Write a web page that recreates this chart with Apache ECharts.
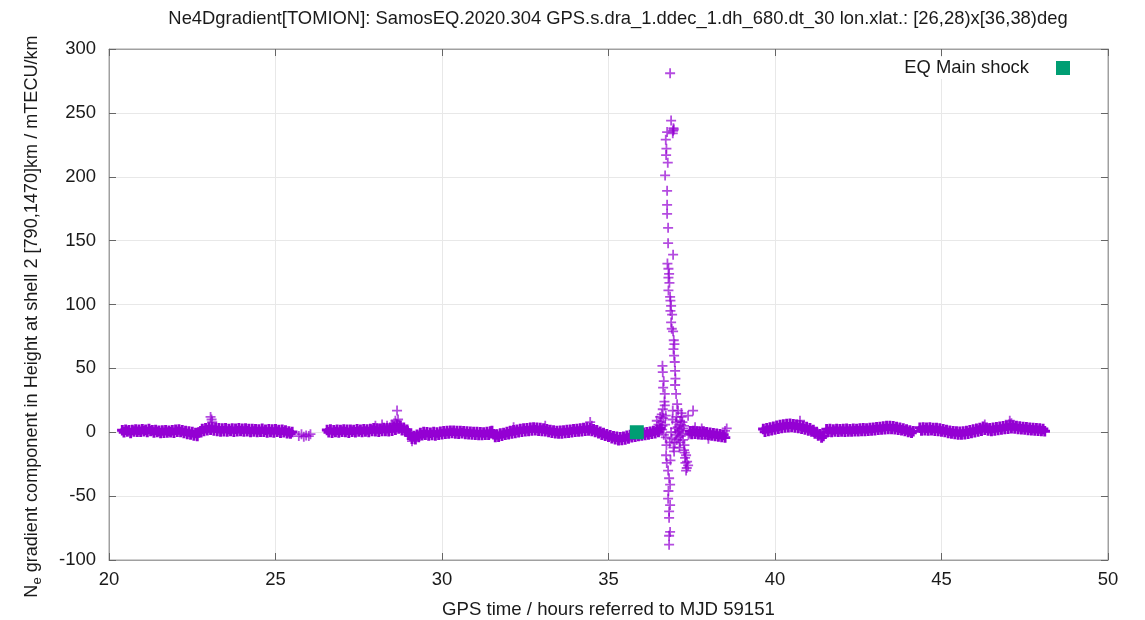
<!DOCTYPE html>
<html>
<head>
<meta charset="utf-8">
<script src="https://cdn.jsdelivr.net/npm/echarts@6/dist/echarts.min.js"></script>
<style>html,body{margin:0;padding:0;background:#fff}#c{width:1145px;height:620px}</style>
</head>
<body>
<div id="c"></div>
<script>
// ---------- data ----------
const titleText = 'Ne4Dgradient[TOMION]: SamosEQ.2020.304 GPS.s.dra_1.ddec_1.dh_680.dt_30 lon.xlat.: [26,28)x[36,38)deg';
const xName = 'GPS time / hours referred to MJD 59151';
const yName = '{a|N}{b|e}{a| gradient component in Height at shell 2 [790,1470]km / mTECU/km}';
const seriesName = 'EQ Main shock';
const xTicks = [20, 25, 30, 35, 40, 45, 50];
const yTicks = [-100, -50, 0, 50, 100, 150, 200, 250, 300];
const sampleStep = 0.05; // hours between samples within an arc

// arc 1: 20.40 .. 25.50 h
const arc1Start = 20.40;
const arc1 = [1.5,0.0,2.0,0.5,1.5,-0.5,1.8,0.6,2.2,0.3,
  1.9,0.4,2.4,0.8,2.0,0.2,2.6,1.0,1.6,-0.2,
  1.8,0.1,1.2,-0.6,1.4,-0.3,1.5,-0.2,1.1,0.0,
  1.6,-0.4,1.9,0.3,2.1,0.2,1.5,-0.5,0.9,-1.4,
  0.6,-1.8,0.2,-2.5,-0.5,-3.0,-0.2,0.8,2.5,0.9,
  3.2,1.5,3.8,2.0,4.0,1.4,3.5,1.0,3.2,0.6,
  2.9,0.8,3.1,0.5,2.6,0.9,3.0,0.4,2.7,0.8,
  3.2,1.0,2.8,0.6,3.0,0.7,2.5,0.2,2.6,0.5,
  2.4,0.1,2.2,0.4,2.8,0.3,2.0,-0.2,2.3,0.2,
  2.1,-0.1,2.4,0.3,1.8,-0.4,1.9,0.0,1.4,-0.8,
  0.6,-1.0,0.2];

// arc 2: 26.55 .. 36.55 h
const arc2Start = 26.55;
const arc2 = [1.8,0.0,2.1,-0.3,1.6,0.2,2.0,-0.1,1.7,0.4,
  2.2,0.1,1.9,-0.4,2.0,0.3,1.8,0.0,2.3,0.5,
  1.9,0.2,2.4,0.6,2.1,0.1,2.6,0.9,3.2,0.8,
  3.0,0.4,2.8,0.9,3.4,1.0,3.1,0.7,3.6,1.2,
  4.5,2.0,6.0,3.0,5.0,1.5,3.5,0.5,2.0,-1.0,
  -2.5,-5.0,-3.0,-5.5,-2.0,-3.8,-0.5,-2.4,0.2,-2.0,
  0.0,-2.6,-0.3,-2.2,0.1,-2.5,-0.2,-1.9,0.4,-1.6,
  0.8,-1.2,1.0,-0.9,1.2,-0.6,1.1,-1.0,0.9,-1.1,
  1.0,-0.8,0.7,-1.3,0.5,-1.5,0.3,-1.8,0.2,-2.0,
  0.1,-2.1,0.0,-2.2,-0.2,-2.0,0.1,-1.9,0.6,1.0,
  -1.5,-3.8,-1.8,-3.5,-1.0,-2.8,-0.5,-2.0,0.2,-1.6,
  0.9,-0.9,1.5,-0.5,2.0,0.0,2.6,0.4,2.9,0.8,
  3.2,1.0,3.6,1.3,3.8,1.5,3.5,1.2,3.4,1.0,
  3.0,0.7,2.4,0.2,1.8,-0.3,1.3,-0.8,1.0,-1.0,
  1.1,-0.9,1.4,-0.6,1.8,-0.3,2.0,0.0,2.3,0.3,
  2.6,0.5,3.0,0.8,3.4,1.1,3.7,1.4,3.3,1.0,
  2.4,0.2,1.5,-0.8,0.4,-1.9,-0.6,-2.8,-1.5,-3.6,
  -2.4,-4.6,-3.2,-5.4,-3.6,-6.2,-4.0,-6.0,-3.5,-5.6,
  -2.8,-4.8,-2.2,-4.0,-1.8,-3.5,-1.2,-3.0,-0.8,-2.6,
  -0.4,-2.2,0.0,-1.8,0.4,-1.2,1.0,-0.8,1.8,0.2,
  3.0];

// arc 2 continued after the disturbance: 37.45 .. 38.50 h
const arc2bStart = 37.45;
const arc2b = [0.8,-1.4,1.0,-1.2,0.6,-1.5,0.3,-1.8,0.5,-1.6,
  0.0,-2.2,-0.4,-2.6,-0.8,-3.0,-1.2,-3.4,-1.6,-3.8,
  -2.0,-4.2];

// arc 3: 39.65 .. 41.45 h
const arc3Start = 39.65;
const arc3 = [2.5,0.4,3.2,1.0,3.8,1.6,4.4,2.2,5.0,2.8,
  5.6,3.4,6.0,3.8,6.4,4.0,6.6,4.2,6.2,3.8,
  5.8,3.4,5.4,2.8,4.8,2.2,4.2,1.4,3.2,0.6,
  1.8,-1.0,0.2,-2.6,-1.6,-4.2,-3.0];

// arc 4: 41.55 .. 44.15 h
const arc4Start = 41.55;
const arc4 = [2.4,0.4,2.6,0.2,2.2,0.5,2.5,0.3,2.3,0.6,
  2.5,0.4,2.7,0.6,2.4,0.5,2.8,0.7,2.6,0.8,
  2.9,0.9,3.1,1.0,3.0,1.2,3.3,1.4,3.6,1.6,
  3.9,1.9,4.2,2.1,4.5,2.4,4.8,2.6,4.9,2.5,
  4.6,2.3,4.2,2.0,3.6,1.5,3.0,0.9,2.2,0.2,
  1.4,-0.4,0.8];

// arc 5: 44.35 .. 48.10 h
const arc5Start = 44.35;
const arc5 = [3.6,1.4,3.8,1.6,3.5,1.3,3.7,1.5,3.4,1.2,
  3.3,1.0,2.9,0.6,2.4,0.1,1.8,-0.5,1.2,-1.0,
  0.8,-1.4,0.5,-1.7,0.4,-1.8,0.6,-1.5,1.0,-1.2,
  1.5,-0.6,2.1,0.0,2.8,0.6,3.4,1.2,4.4,2.0,
  3.6,1.4,3.2,1.0,3.6,1.4,4.0,1.8,4.3,2.2,
  4.6,2.5,5.0,2.8,5.8,3.2,5.2,3.0,4.8,2.6,
  4.5,2.4,4.2,2.1,3.9,1.8,3.6,1.6,3.3,1.4,
  3.1,1.2,2.9,1.0,2.6,0.8];

// isolated points (hours, value)
const scattered = [
  [23.05,12],[23.10,8],[23.08,10],
  [25.70,-3],[25.78,-1.5],[25.85,-3.5],[25.92,-2.5],[26.00,-3],[26.05,-1.5],
  [28.00,5],[28.20,6],[28.35,5],[28.50,6],[28.60,9],[28.65,17],[28.68,10],[29.10,-7],
  [32.15,4],[33.10,5],[34.45,8],[34.50,5],
  [38.55,3],[38.50,1],[37.60,4],[37.80,3],[38.00,-5],
  [40.75,9],[46.30,6],[47.05,9],[47.10,7]
];

// the disturbance around 36.6 .. 37.5 h
const disturbance = [
  [36.45,9],[36.50,6],[36.55,12],[36.58,8],[36.60,14],[36.62,5],[36.64,11],[36.61,2],[36.66,-2],[36.63,18],
  [36.62,52],[36.63,47],[36.66,40],[36.64,35],[36.69,30],[36.68,24],[36.69,21],[36.72,13],[36.70,6],
  [36.72,-4],[36.74,-10],[36.73,-18],[36.75,-24],[36.79,-30],[36.82,-36],[36.85,-41],[36.80,-46],
  [36.79,-52],[36.85,-57],[36.82,-62],[36.82,-67],[36.85,-78],[36.82,-81],[36.82,-88],
  [36.85,281],[36.88,244],[36.76,235],[36.94,236],[36.95,238],[36.93,234],[36.96,237],[36.72,229],
  [36.74,222],[36.73,217],[36.78,211],[36.70,201],[36.76,189],[36.76,178],[36.76,171],[36.79,160],
  [36.79,148],[36.94,139],[36.77,132],[36.80,128],[36.82,124],[36.80,121],[36.83,117],[36.80,111],
  [36.85,106],[36.86,103],[36.88,99],[36.86,95],[36.91,92],[36.88,86],[36.90,81],[36.94,79],
  [36.96,72],[36.98,69],[36.95,65],[36.97,60],[36.99,55],[37.00,48],[37.01,42],
  [37.00,37],[37.03,30],[37.06,22],[37.09,17],[37.04,12],[36.93,17],[37.15,9],[37.54,17],[37.39,13],[37.27,5],
  [37.00,3],[37.02,-2],[37.05,-6],[37.03,8],[37.07,0],[37.10,-4],[37.08,4],[37.12,2],[37.15,-8],
  [37.13,-12],[37.18,6],[37.20,12],[37.22,8],[37.19,15],[37.24,3],[37.21,-1],[37.17,-3],[37.14,1],
  [37.24,-6],[37.27,-14],[37.33,-18],[37.36,-23],[37.33,-30],[37.39,-26],[37.30,-20],[37.28,-10],
  [37.31,-24],[37.35,-28],[37.29,-16],[37.40,-2],[37.44,-1],[37.48,1],
  [36.90,-5],[36.92,10],[36.88,0],[36.97,-15],[36.99,-8],[36.86,-22],[36.95,-12],[36.84,-8]
];

// EQ main shock marker
const mainShock = [[35.85, 0]];

// ---------- chart ----------
function arc(start, vals) {
  return vals.map((v, i) => [Math.round((start + i * sampleStep) * 100) / 100, v]);
}
const bandData = [].concat(
  arc(arc1Start, arc1), arc(arc2Start, arc2), arc(arc2bStart, arc2b),
  arc(arc3Start, arc3), arc(arc4Start, arc4), arc(arc5Start, arc5));

const FONT = 'Liberation Sans, Arial, sans-serif';
const PLUS = 'path://M4.1,0H5.9V4.1H10V5.9H5.9V10H4.1V5.9H0V4.1H4.1Z';
const PLUS_BOLD = 'path://M3.6,0H6.4V3.6H10V6.4H6.4V10H3.6V6.4H0V3.6H3.6Z';
const PURPLE = '#9400d3';

const chart = echarts.init(document.getElementById('c'), null, {renderer: 'canvas'});
const axisCommon = {
  type: 'value',
  axisLine: {show: true, onZero: false, lineStyle: {color: '#a0a0a0', width: 1}},
  axisTick: {show: true, inside: true, length: 7, lineStyle: {color: '#666'}},
};
chart.setOption({
  animation: false,
  backgroundColor: '#fff',
  textStyle: {fontFamily: FONT},
  title: {
    text: titleText, left: 613, top: 5, textAlign: 'center',
    textStyle: {fontFamily: FONT, fontSize: 18.4, fontWeight: 'normal', color: '#1a1a1a'}
  },
  legend: {
    data: [{name: seriesName, icon: 'rect', itemStyle: {color: '#009e73', opacity: 1}}],
    right: 73, top: 57, align: 'right', itemWidth: 14, itemHeight: 14,
    backgroundColor: '#fff', padding: [2, 2, 2, 2],
    textStyle: {fontFamily: FONT, fontSize: 18.4, color: '#1a1a1a', padding: [0, 22, 8, 0]}
  },
  grid: {left: 109, right: 37, top: 49, bottom: 60, show: true, borderColor: '#a0a0a0', borderWidth: 1,
    containLabel: false, outerBoundsMode: 'none'},
  xAxis: [
    Object.assign({}, axisCommon, {
      min: xTicks[0], max: xTicks[xTicks.length - 1], interval: 5, position: 'bottom',
      axisLabel: {fontFamily: FONT, fontSize: 18.5, color: '#1a1a1a', margin: 10},
      splitLine: {show: true, lineStyle: {color: '#e8e8e8', width: 1}},
      name: xName, nameLocation: 'middle', nameGap: 40,
      nameTextStyle: {fontFamily: FONT, fontSize: 18.6, color: '#1a1a1a'}
    }),
    Object.assign({}, axisCommon, {
      min: xTicks[0], max: xTicks[xTicks.length - 1], interval: 5, position: 'top',
      axisLabel: {show: false}, splitLine: {show: false}
    })
  ],
  yAxis: [
    Object.assign({}, axisCommon, {
      min: yTicks[0], max: yTicks[yTicks.length - 1], interval: 50, position: 'left',
      axisLabel: {fontFamily: FONT, fontSize: 18.5, color: '#1a1a1a', margin: 13},
      splitLine: {show: true, lineStyle: {color: '#e8e8e8', width: 1}},
      name: yName, nameLocation: 'middle', nameGap: 65, nameRotate: 90,
      nameTextStyle: {
        fontFamily: FONT, color: '#1a1a1a', padding: [0, 24, 0, 0],
        rich: {
          a: {fontFamily: FONT, fontSize: 18.1, color: '#1a1a1a'},
          b: {fontFamily: FONT, fontSize: 13, color: '#1a1a1a', padding: [11, 0, 0, 0]}
        }
      }
    }),
    Object.assign({}, axisCommon, {
      min: yTicks[0], max: yTicks[yTicks.length - 1], interval: 50, position: 'right',
      axisLabel: {show: false}, splitLine: {show: false}
    })
  ],
  series: [
    {
      name: 'gradient', type: 'scatter', xAxisIndex: 0, yAxisIndex: 0,
      symbol: PLUS_BOLD, symbolSize: 10.5, large: false,
      itemStyle: {color: PURPLE, opacity: 1},
      data: bandData, z: 2
    },
    {
      name: 'gradient', type: 'scatter', xAxisIndex: 0, yAxisIndex: 0,
      symbol: PLUS, symbolSize: 10,
      itemStyle: {color: PURPLE, opacity: 0.7},
      data: scattered.concat(disturbance), z: 2
    },
    {
      name: seriesName, type: 'scatter', xAxisIndex: 0, yAxisIndex: 0,
      symbol: 'rect', symbolSize: 14,
      itemStyle: {color: '#009e73', opacity: 1},
      data: mainShock, z: 5
    }
  ]
});
</script>
</body>
</html>
